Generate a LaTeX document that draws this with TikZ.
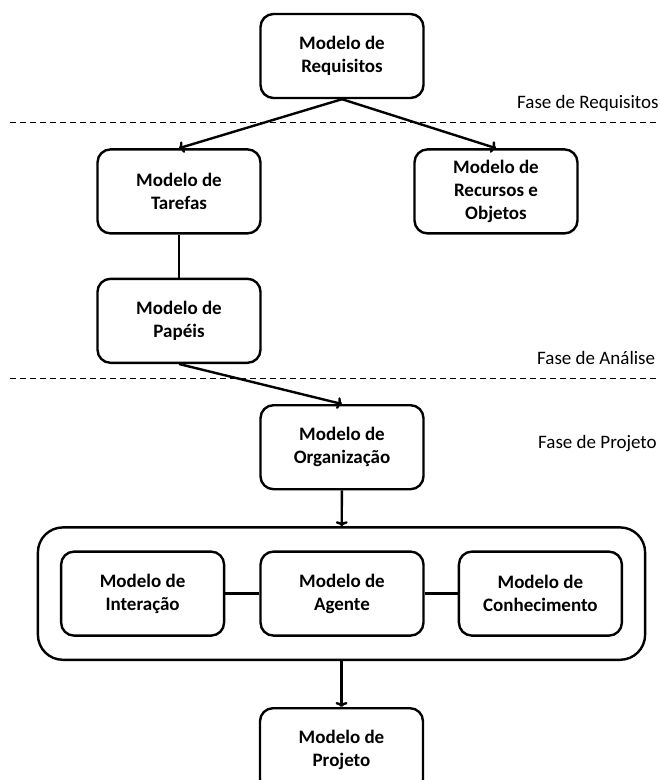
\documentclass[tikz,border=0pt]{standalone}
\usepackage{fontspec}
\setmainfont{Carlito}
\usetikzlibrary{arrows,arrows.meta,positioning,fit}

\begin{document}
\begin{tikzpicture}[x=1pt,y=-1pt,
    every node/.style={font=\fontsize{19}{23}\selectfont},
    modelo/.style={draw,rounded corners=13pt,line width=2.4pt,align=center,
      minimum width=163pt,minimum height=84pt,font=\fontsize{19}{23}\selectfont\bfseries},
    fase/.style={anchor=base west,inner sep=0pt},
    divisa/.style={dash pattern=on 6pt off 4pt,line width=1pt},
    liga/.style={line width=2.4pt},
    seta/.style={liga,-{To[length=5pt,width=12pt]}}]
  \useasboundingbox (0,0) rectangle (660,780);

  \node[modelo] (req) at (342,56) {Modelo de\\Requisitos};
  \node[modelo, below=49pt of req, xshift=-163pt] (tar) {Modelo de\\Tarefas};
  \node[modelo, below=49pt of req, xshift=154pt] (rec) {Modelo de\\Recursos e\\Objetos};
  \node[modelo, below=43pt of tar] (pap) {Modelo de\\Papéis};
  \node[modelo, below=40pt of pap, xshift=163pt] (org) {Modelo de\\Organização};
  \node[modelo, below=60pt of org] (agt) {Modelo de\\Agente};
  \node[modelo, left=34pt of agt] (int) {Modelo de\\Interação};
  \node[modelo, right=33pt of agt] (con) {Modelo de\\Conhecimento};
  \node[draw, rounded corners=25pt, line width=2.4pt, fit=(int)(con),
    inner xsep=22pt, inner ysep=23pt] (grupo) {};
  \node[modelo, below=46pt of grupo] (prj) {Modelo de\\Projeto};

  % fases
  \draw[divisa] (10,122) -- (660,122);
  \draw[divisa] (10,378) -- (660,378);
  \node[fase] (fReq) at (517,108) {Fase de Requisitos};
  \node[fase] (fAna) at (537,364) {Fase de Análise};
  \node[fase] (fPro) at (538,448) {Fase de Projeto};

  \draw[seta] (req.south) -- (tar.north);
  \draw[seta] (req.south) -- (rec.north);
  \draw[liga] (tar) -- (pap);
  \draw[seta] (pap.south) -- (org.north);
  \draw[seta] (org) -- (grupo);
  \draw[liga] (int) -- (agt);
  \draw[liga] (agt) -- (con);
  \draw[seta] (grupo) -- (prj);
\end{tikzpicture}
\end{document}
